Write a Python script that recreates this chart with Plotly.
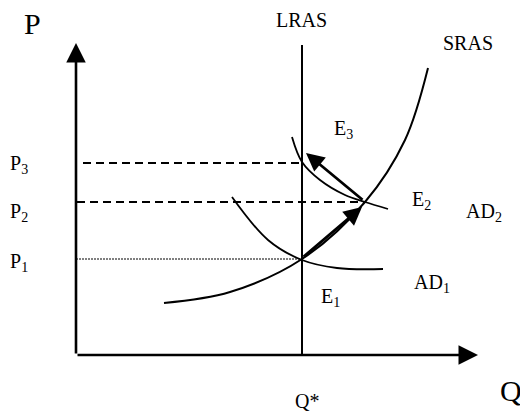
import plotly.graph_objects as go

# ---- data (arbitrary units: Q along horizontal, P along vertical) ----
Q_STAR = 22.6
P_LEVELS = {"P1": 9.6, "P2": 15.3, "P3": 19.2}
Q_AXIS_END = 40.2
P_AXIS_END = 31.2
LRAS_TOP = 31.0

sras_q = [8.8, 15.4, 22.6, 28.9, 32.9, 35.2]
sras_p = [5.2, 6.3, 9.6, 15.3, 21.5, 28.7]

ad1_q = [15.6, 19.2, 22.6, 26.1, 30.7]
ad1_p = [15.8, 11.5, 9.5, 8.7, 8.6]

ad2_q = [21.6, 22.6, 24.4, 26.9, 28.9, 31.2]
ad2_p = [21.8, 19.3, 17.5, 16.0, 15.3, 14.6]

E2_Q, E2_P = 28.9, 15.3
# movement arrows: (tail q, tail p, head q, head p)
moves = [(22.6, 9.7, 28.6, 14.8), (28.8, 15.4, 23.0, 20.2)]

FONT = "Liberation Serif"

fig = go.Figure()

fig.add_trace(go.Scatter(x=sras_q, y=sras_p, mode="lines", line=dict(color="black", width=2, shape="spline"), hoverinfo="skip"))
fig.add_trace(go.Scatter(x=ad1_q, y=ad1_p, mode="lines", line=dict(color="black", width=1.8, shape="spline"), hoverinfo="skip"))
fig.add_trace(go.Scatter(x=ad2_q, y=ad2_p, mode="lines", line=dict(color="black", width=1.8, shape="spline"), hoverinfo="skip"))
# LRAS
fig.add_trace(go.Scatter(x=[Q_STAR, Q_STAR], y=[0, LRAS_TOP], mode="lines", line=dict(color="black", width=2), hoverinfo="skip"))
# price level guides
fig.add_trace(go.Scatter(x=[0.7, Q_STAR], y=[P_LEVELS["P3"]] * 2, mode="lines", line=dict(color="black", width=2, dash="8px,5px"), hoverinfo="skip"))
fig.add_trace(go.Scatter(x=[0.1, E2_Q], y=[P_LEVELS["P2"]] * 2, mode="lines", line=dict(color="black", width=2, dash="8px,5px"), hoverinfo="skip"))
fig.add_trace(go.Scatter(x=[0, Q_STAR], y=[P_LEVELS["P1"]] * 2, mode="lines", line=dict(color="black", width=1, dash="2px,1px"), hoverinfo="skip"))

ann = []
# axes with arrows
ann.append(dict(x=Q_AXIS_END, y=0, ax=0, ay=0, xref="x", yref="y", axref="x", ayref="y",
                showarrow=True, arrowhead=2, arrowsize=1.5, arrowwidth=2.6, arrowcolor="black", text=""))
ann.append(dict(x=0, y=P_AXIS_END, ax=0, ay=0, xref="x", yref="y", axref="x", ayref="y",
                showarrow=True, arrowhead=2, arrowsize=1.5, arrowwidth=2.6, arrowcolor="black", text=""))
for tq, tp, hq, hp in moves:
    ann.append(dict(x=hq, y=hp, ax=tq, ay=tp, xref="x", yref="y", axref="x", ayref="y",
                    showarrow=True, arrowhead=2, arrowsize=1.3, arrowwidth=2.8, arrowcolor="black", text=""))

labels = [
    ("P", -4.4, 33.2, 30),
    ("Q", 43.5, -3.5, 30),
    ("LRAS", 22.5, 33.5, 20),
    ("SRAS", 39.2, 31.2, 20),
    ("E<sub>3</sub>", 26.7, 22.6, 20),
    ("E<sub>2</sub>", 34.5, 15.5, 20),
    ("AD<sub>2</sub>", 40.8, 14.3, 20),
    ("AD<sub>1</sub>", 35.6, 7.2, 20),
    ("E<sub>1</sub>", 25.4, 5.8, 20),
    ("Q*", 23.1, -4.6, 20),
    ("P<sub>3</sub>", -5.7, 19.1, 20),
    ("P<sub>2</sub>", -5.7, 14.3, 20),
    ("P<sub>1</sub>", -5.7, 9.3, 20),
]
for t, x, y, s in labels:
    ann.append(dict(text=t, x=x, y=y, xref="x", yref="y", showarrow=False,
                    font=dict(family=FONT, size=s, color="black")))

# the page places the figure 8px in from the top-left corner, so the figure is
# 520x406 and the ranges start at that offset
fig.update_layout(
    width=520, height=406,
    margin=dict(l=0, r=0, t=0, b=0),
    paper_bgcolor="white", plot_bgcolor="white",
    showlegend=False,
    annotations=ann,
    xaxis=dict(range=[-6.8, 45.2], visible=False, fixedrange=True),
    yaxis=dict(range=[-5.9, 34.7], visible=False, fixedrange=True),
)

fig.write_html("out.html", config={"displayModeBar": False})
